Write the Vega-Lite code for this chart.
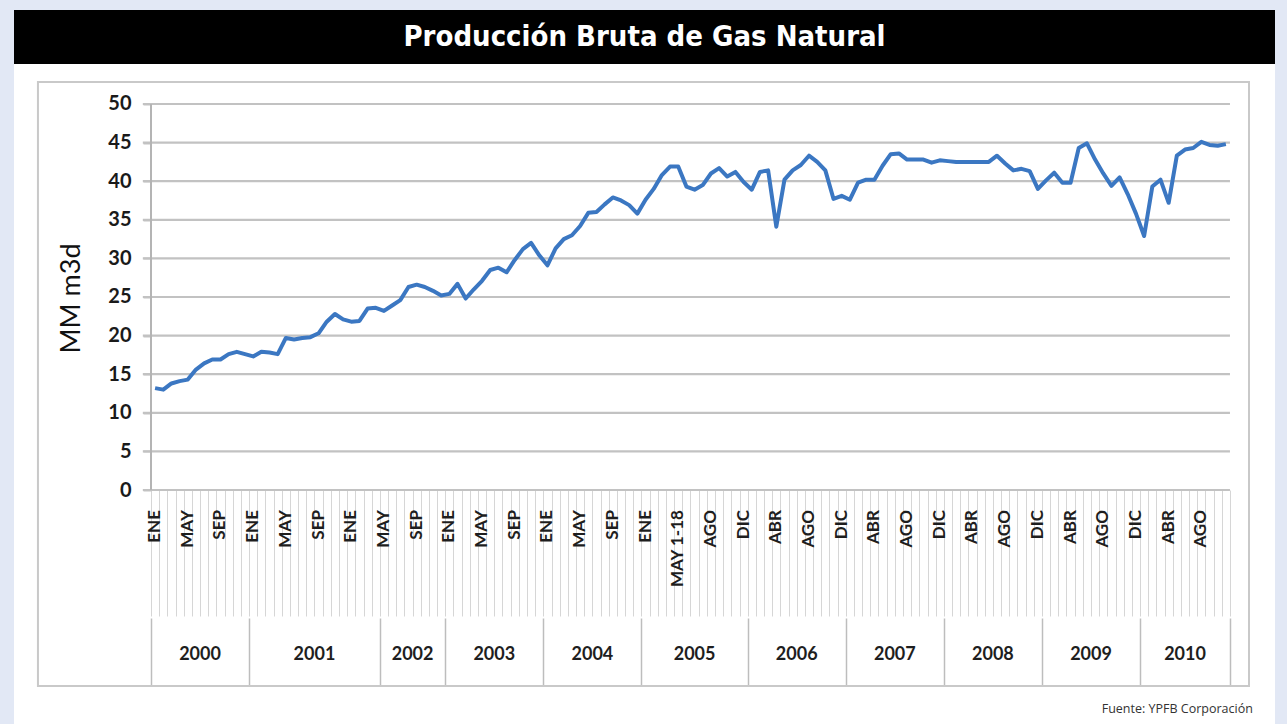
{
  "$schema": "https://vega.github.io/schema/vega-lite/v6.json",
  "background": "#e2e8f5",
  "padding": {"left": 14, "top": 10, "right": 12, "bottom": 0},
  "spacing": 0,
  "config": {"view": {"stroke": null}},
  "datasets": {
    "gas": [
      {"i":0,"anio":"2000","mes":"ENE","v":13.2},{"i":1,"anio":"2000","mes":"FEB","v":13.0},{"i":2,"anio":"2000","mes":"MAR","v":13.8},{"i":3,"anio":"2000","mes":"ABR","v":14.1},{"i":4,"anio":"2000","mes":"MAY","v":14.3},{"i":5,"anio":"2000","mes":"JUN","v":15.6},{"i":6,"anio":"2000","mes":"JUL","v":16.4},{"i":7,"anio":"2000","mes":"AGO","v":16.9},{"i":8,"anio":"2000","mes":"SEP","v":16.9},{"i":9,"anio":"2000","mes":"OCT","v":17.6},{"i":10,"anio":"2000","mes":"NOV","v":17.9},{"i":11,"anio":"2000","mes":"DIC","v":17.6},
      {"i":12,"anio":"2001","mes":"ENE","v":17.3},{"i":13,"anio":"2001","mes":"FEB","v":17.9},{"i":14,"anio":"2001","mes":"MAR","v":17.8},{"i":15,"anio":"2001","mes":"ABR","v":17.6},{"i":16,"anio":"2001","mes":"MAY","v":19.7},{"i":17,"anio":"2001","mes":"JUN","v":19.5},{"i":18,"anio":"2001","mes":"JUL","v":19.7},{"i":19,"anio":"2001","mes":"AGO","v":19.8},{"i":20,"anio":"2001","mes":"SEP","v":20.3},{"i":21,"anio":"2001","mes":"OCT","v":21.8},{"i":22,"anio":"2001","mes":"NOV","v":22.8},{"i":23,"anio":"2001","mes":"DIC","v":22.1},
      {"i":24,"anio":"2001","mes":"ENE","v":21.8},{"i":25,"anio":"2001","mes":"FEB","v":21.9},{"i":26,"anio":"2001","mes":"MAR","v":23.5},{"i":27,"anio":"2001","mes":"ABR","v":23.6},
      {"i":28,"anio":"2002","mes":"MAY","v":23.2},{"i":29,"anio":"2002","mes":"JUN","v":23.9},{"i":30,"anio":"2002","mes":"JUL","v":24.6},{"i":31,"anio":"2002","mes":"AGO","v":26.3},{"i":32,"anio":"2002","mes":"SEP","v":26.6},{"i":33,"anio":"2002","mes":"OCT","v":26.3},{"i":34,"anio":"2002","mes":"NOV","v":25.8},{"i":35,"anio":"2002","mes":"DIC","v":25.2},
      {"i":36,"anio":"2003","mes":"ENE","v":25.4},{"i":37,"anio":"2003","mes":"FEB","v":26.7},{"i":38,"anio":"2003","mes":"MAR","v":24.8},{"i":39,"anio":"2003","mes":"ABR","v":26.0},{"i":40,"anio":"2003","mes":"MAY","v":27.1},{"i":41,"anio":"2003","mes":"JUN","v":28.5},{"i":42,"anio":"2003","mes":"JUL","v":28.8},{"i":43,"anio":"2003","mes":"AGO","v":28.2},{"i":44,"anio":"2003","mes":"SEP","v":29.8},{"i":45,"anio":"2003","mes":"OCT","v":31.2},{"i":46,"anio":"2003","mes":"NOV","v":32.0},{"i":47,"anio":"2003","mes":"DIC","v":30.4},
      {"i":48,"anio":"2004","mes":"ENE","v":29.1},{"i":49,"anio":"2004","mes":"FEB","v":31.3},{"i":50,"anio":"2004","mes":"MAR","v":32.5},{"i":51,"anio":"2004","mes":"ABR","v":33.0},{"i":52,"anio":"2004","mes":"MAY","v":34.2},{"i":53,"anio":"2004","mes":"JUN","v":35.9},{"i":54,"anio":"2004","mes":"JUL","v":36.0},{"i":55,"anio":"2004","mes":"AGO","v":37.0},{"i":56,"anio":"2004","mes":"SEP","v":37.9},{"i":57,"anio":"2004","mes":"OCT","v":37.5},{"i":58,"anio":"2004","mes":"NOV","v":36.9},{"i":59,"anio":"2004","mes":"DIC","v":35.8},
      {"i":60,"anio":"2005","mes":"ENE","v":37.6},{"i":61,"anio":"2005","mes":"FEB","v":39.0},{"i":62,"anio":"2005","mes":"MAR","v":40.8},{"i":63,"anio":"2005","mes":"ABR","v":41.9},{"i":64,"anio":"2005","mes":"MAY 1-18","v":41.9},{"i":65,"anio":"2005","mes":"MAY 19-31","v":39.3},{"i":66,"anio":"2005","mes":"JUN","v":38.9},{"i":67,"anio":"2005","mes":"JUL","v":39.5},{"i":68,"anio":"2005","mes":"AGO","v":41.0},{"i":69,"anio":"2005","mes":"SEP","v":41.7},{"i":70,"anio":"2005","mes":"OCT","v":40.6},{"i":71,"anio":"2005","mes":"NOV","v":41.2},{"i":72,"anio":"2005","mes":"DIC","v":39.9},
      {"i":73,"anio":"2006","mes":"ENE","v":38.9},{"i":74,"anio":"2006","mes":"FEB","v":41.2},{"i":75,"anio":"2006","mes":"MAR","v":41.4},{"i":76,"anio":"2006","mes":"ABR","v":34.1},{"i":77,"anio":"2006","mes":"MAY","v":40.2},{"i":78,"anio":"2006","mes":"JUN","v":41.4},{"i":79,"anio":"2006","mes":"JUL","v":42.1},{"i":80,"anio":"2006","mes":"AGO","v":43.3},{"i":81,"anio":"2006","mes":"SEP","v":42.5},{"i":82,"anio":"2006","mes":"OCT","v":41.4},{"i":83,"anio":"2006","mes":"NOV","v":37.7},{"i":84,"anio":"2006","mes":"DIC","v":38.1},
      {"i":85,"anio":"2007","mes":"ENE","v":37.6},{"i":86,"anio":"2007","mes":"FEB","v":39.8},{"i":87,"anio":"2007","mes":"MAR","v":40.2},{"i":88,"anio":"2007","mes":"ABR","v":40.2},{"i":89,"anio":"2007","mes":"MAY","v":42.0},{"i":90,"anio":"2007","mes":"JUN","v":43.5},{"i":91,"anio":"2007","mes":"JUL","v":43.6},{"i":92,"anio":"2007","mes":"AGO","v":42.8},{"i":93,"anio":"2007","mes":"SEP","v":42.8},{"i":94,"anio":"2007","mes":"OCT","v":42.8},{"i":95,"anio":"2007","mes":"NOV","v":42.4},{"i":96,"anio":"2007","mes":"DIC","v":42.7},
      {"i":97,"anio":"2008","mes":"ENE","v":42.6},{"i":98,"anio":"2008","mes":"FEB","v":42.5},{"i":99,"anio":"2008","mes":"MAR","v":42.5},{"i":100,"anio":"2008","mes":"ABR","v":42.5},{"i":101,"anio":"2008","mes":"MAY","v":42.5},{"i":102,"anio":"2008","mes":"JUN","v":42.5},{"i":103,"anio":"2008","mes":"JUL","v":43.3},{"i":104,"anio":"2008","mes":"AGO","v":42.3},{"i":105,"anio":"2008","mes":"SEP","v":41.4},{"i":106,"anio":"2008","mes":"OCT","v":41.6},{"i":107,"anio":"2008","mes":"NOV","v":41.3},{"i":108,"anio":"2008","mes":"DIC","v":39.0},
      {"i":109,"anio":"2009","mes":"ENE","v":40.1},{"i":110,"anio":"2009","mes":"FEB","v":41.1},{"i":111,"anio":"2009","mes":"MAR","v":39.8},{"i":112,"anio":"2009","mes":"ABR","v":39.8},{"i":113,"anio":"2009","mes":"MAY","v":44.3},{"i":114,"anio":"2009","mes":"JUN","v":44.9},{"i":115,"anio":"2009","mes":"JUL","v":42.8},{"i":116,"anio":"2009","mes":"AGO","v":41.0},{"i":117,"anio":"2009","mes":"SEP","v":39.4},{"i":118,"anio":"2009","mes":"OCT","v":40.5},{"i":119,"anio":"2009","mes":"NOV","v":38.3},{"i":120,"anio":"2009","mes":"DIC","v":35.8},
      {"i":121,"anio":"2010","mes":"ENE","v":32.9},{"i":122,"anio":"2010","mes":"FEB","v":39.3},{"i":123,"anio":"2010","mes":"MAR","v":40.2},{"i":124,"anio":"2010","mes":"ABR","v":37.2},{"i":125,"anio":"2010","mes":"MAY","v":43.3},{"i":126,"anio":"2010","mes":"JUN","v":44.1},{"i":127,"anio":"2010","mes":"JUL","v":44.3},{"i":128,"anio":"2010","mes":"AGO","v":45.1},{"i":129,"anio":"2010","mes":"SEP","v":44.7},{"i":130,"anio":"2010","mes":"OCT","v":44.6},{"i":131,"anio":"2010","mes":"NOV","v":44.8}
    ],
    "grid": [{"g":0},{"g":5},{"g":10},{"g":15},{"g":20},{"g":25},{"g":30},{"g":35},{"g":40},{"g":45},{"g":50}],
    "titulo": [{"t":"Producción Bruta de Gas Natural"}],
    "fuente": [{"f":"Fuente: YPFB Corporación"}]
  },
  "vconcat": [
    {
      "width": 1261,
      "height": 54,
      "view": {"fill": "#000000", "stroke": null},
      "data": {"name": "titulo"},
      "mark": {"type": "text", "font": "DejaVu Sans Condensed", "fontWeight": "bold", "fontSize": 29, "color": "#ffffff", "align": "center", "baseline": "middle"},
      "encoding": {"text": {"field": "t", "type": "nominal"}}
    },
    {
      "width": 1261,
      "height": 660,
      "view": {"fill": "#ffffff", "stroke": null},
      "resolve": {"axis": {"x": "independent", "y": "independent"}},
      "layer": [
        {
          "data": {"name": "fuente"},
          "mark": {"type": "rect", "fill": "transparent", "stroke": "#c9c9c9", "strokeWidth": 2},
          "encoding": {
            "x": {"datum": -14.33, "type": "quantitative", "scale": {"domain": [-17.26, 137.01], "nice": false, "zero": false}, "axis": null},
            "x2": {"datum": 133.83},
            "y": {"datum": 52.85, "type": "quantitative", "scale": {"domain": [-30.31, 55.18], "nice": false, "zero": false}, "axis": null},
            "y2": {"datum": -25.39}
          }
        },
        {
          "data": {"name": "grid"},
          "mark": {"type": "rule", "color": "#c2c2c2", "strokeWidth": 2.2},
          "encoding": {
            "x": {"datum": -1.5, "type": "quantitative", "scale": {"domain": [-17.26, 137.01], "nice": false, "zero": false}, "axis": null},
            "x2": {"datum": 131.5},
            "y": {"field": "g", "type": "quantitative", "scale": {"domain": [-30.31, 55.18], "nice": false, "zero": false}, "axis": null}
          }
        },
        {
          "data": {"name": "fuente"},
          "mark": {"type": "rule", "color": "#b4b4b4", "strokeWidth": 2},
          "encoding": {
            "x": {"datum": -0.5, "type": "quantitative", "scale": {"domain": [-17.26, 137.01], "nice": false, "zero": false}, "axis": null},
            "y": {"datum": 0, "type": "quantitative", "scale": {"domain": [-30.31, 55.18], "nice": false, "zero": false}, "axis": null},
            "y2": {"datum": 50}
          }
        },
        {
          "data": {"name": "gas"},
          "mark": {"type": "line", "color": "#3b77c2", "strokeWidth": 4, "strokeJoin": "round"},
          "encoding": {
            "x": {
              "field": "i", "type": "quantitative",
              "scale": {"domain": [-17.26, 137.01], "nice": false, "zero": false},
              "axis": {
                "orient": "bottom", "offset": -234, "title": null, "labels": false, "domain": false, "grid": false,
                "ticks": true, "tickSize": 126, "tickColor": "#d6d6d6", "tickWidth": 1,
                "values": [-0.5,0.5,1.5,2.5,3.5,4.5,5.5,6.5,7.5,8.5,9.5,10.5,11.5,12.5,13.5,14.5,15.5,16.5,17.5,18.5,19.5,20.5,21.5,22.5,23.5,24.5,25.5,26.5,27.5,28.5,29.5,30.5,31.5,32.5,33.5,34.5,35.5,36.5,37.5,38.5,39.5,40.5,41.5,42.5,43.5,44.5,45.5,46.5,47.5,48.5,49.5,50.5,51.5,52.5,53.5,54.5,55.5,56.5,57.5,58.5,59.5,60.5,61.5,62.5,63.5,64.5,65.5,66.5,67.5,68.5,69.5,70.5,71.5,72.5,73.5,74.5,75.5,76.5,77.5,78.5,79.5,80.5,81.5,82.5,83.5,84.5,85.5,86.5,87.5,88.5,89.5,90.5,91.5,92.5,93.5,94.5,95.5,96.5,97.5,98.5,99.5,100.5,101.5,102.5,103.5,104.5,105.5,106.5,107.5,108.5,109.5,110.5,111.5,112.5,113.5,114.5,115.5,116.5,117.5,118.5,119.5,120.5,121.5,122.5,123.5,124.5,125.5,126.5,127.5,128.5,129.5,130.5,131.5]
              }
            },
            "y": {
              "field": "v", "type": "quantitative",
              "scale": {"domain": [-30.31, 55.18], "nice": false, "zero": false},
              "axis": {
                "orient": "left", "offset": -137, "domain": false, "grid": false,
                "values": [0,5,10,15,20,25,30,35,40,45,50],
                "ticks": true, "tickSize": 8, "tickColor": "#c2c2c2", "tickWidth": 2,
                "labelFont": "Lato", "labelFontWeight": "bold", "labelFontSize": 20, "labelColor": "#1a1a1a", "labelPadding": 12,
                "title": "MM m3d", "titleFont": "Lato", "titleFontWeight": "normal", "titleFontSize": 27, "titleColor": "#111111",
                "titleAngle": 270, "titleAlign": "center", "titleBaseline": "alphabetic", "titleX": -72, "titleY": 234
              }
            }
          }
        },
        {
          "data": {"name": "gas"},
          "transform": [{"filter": "datum.i % 4 == 0"}],
          "mark": {"type": "text", "angle": 270, "align": "right", "baseline": "middle", "font": "Lato", "fontWeight": "bold", "fontSize": 17, "color": "#1e1e1e"},
          "encoding": {
            "x": {
              "field": "i", "type": "quantitative",
              "scale": {"domain": [-17.26, 137.01], "nice": false, "zero": false},
              "axis": {
                "orient": "bottom", "offset": -106, "title": null, "labels": false, "domain": false, "grid": false,
                "ticks": true, "tickSize": 68, "tickColor": "#bdbdbd", "tickWidth": 1.5,
                "values": [-0.5, 11.5, 27.5, 35.5, 47.5, 59.5, 72.5, 84.5, 96.5, 108.5, 120.5, 131.5]
              }
            },
            "y": {"datum": -2.6, "type": "quantitative", "scale": {"domain": [-30.31, 55.18], "nice": false, "zero": false}, "axis": null},
            "text": {"field": "mes", "type": "nominal"}
          }
        },
        {
          "data": {"name": "gas"},
          "mark": {"type": "text", "align": "center", "baseline": "middle", "font": "Lato", "fontWeight": "bold", "fontSize": 18, "color": "#1e1e1e"},
          "encoding": {
            "x": {"aggregate": "mean", "field": "i", "type": "quantitative", "scale": {"domain": [-17.26, 137.01], "nice": false, "zero": false}, "axis": null},
            "y": {"datum": -21.4, "type": "quantitative", "scale": {"domain": [-30.31, 55.18], "nice": false, "zero": false}, "axis": null},
            "text": {"field": "anio", "type": "nominal"}
          }
        },
        {
          "data": {"name": "fuente"},
          "mark": {"type": "text", "align": "right", "baseline": "alphabetic", "font": "Open Sans", "fontSize": 12.5, "color": "#333333"},
          "encoding": {
            "x": {"datum": 134.3, "type": "quantitative", "scale": {"domain": [-17.26, 137.01], "nice": false, "zero": false}, "axis": null},
            "y": {"datum": -28.9, "type": "quantitative", "scale": {"domain": [-30.31, 55.18], "nice": false, "zero": false}, "axis": null},
            "text": {"field": "f", "type": "nominal"}
          }
        }
      ]
    }
  ]
}
